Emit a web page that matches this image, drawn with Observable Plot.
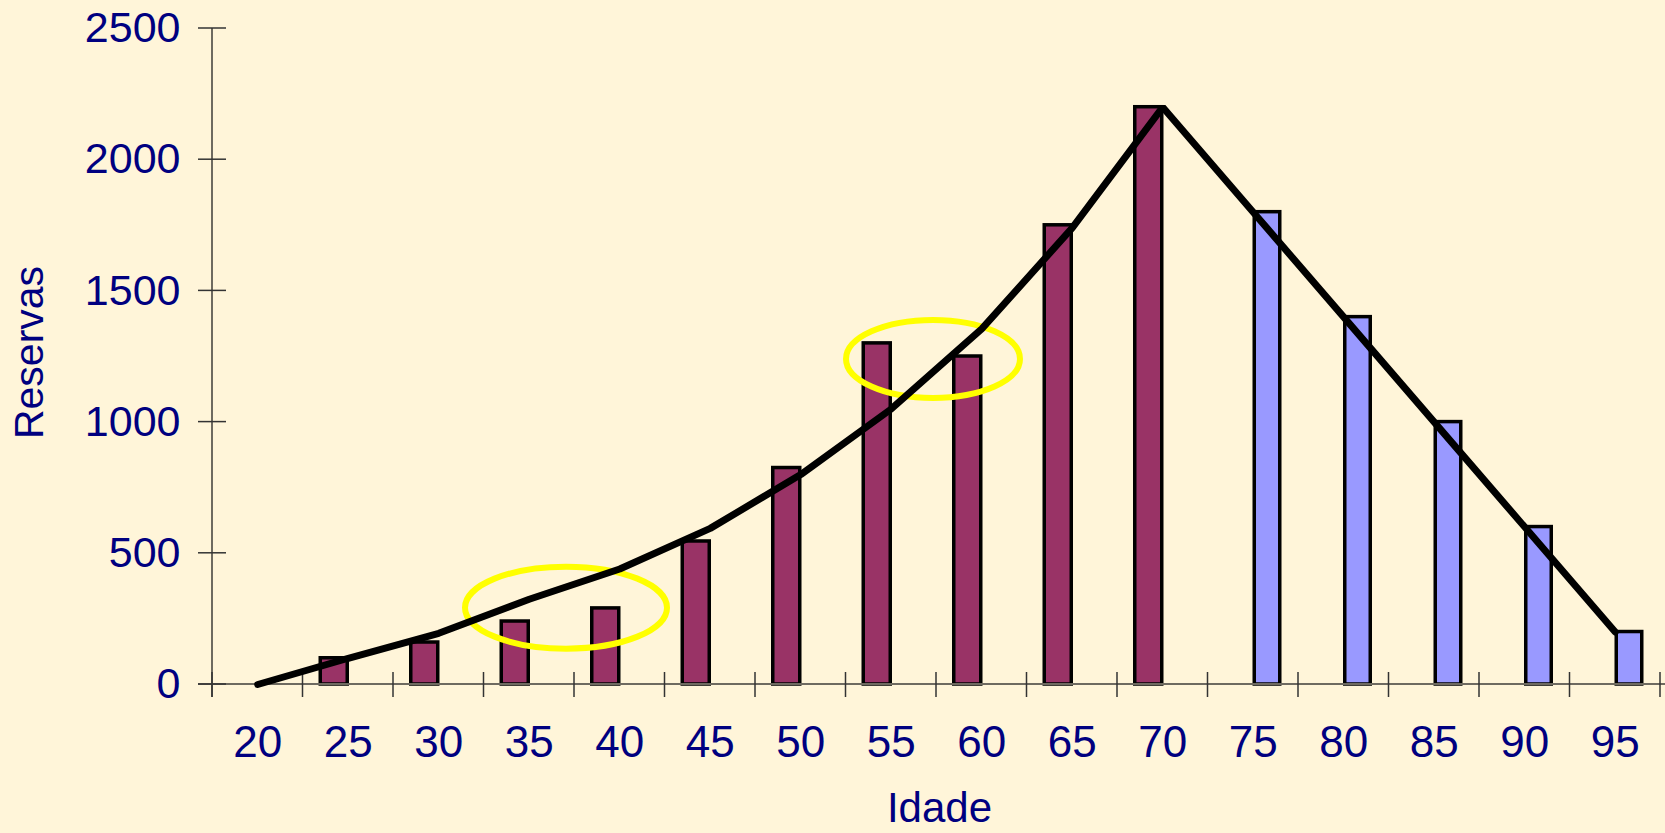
<!DOCTYPE html>
<html>
<head>
<meta charset="utf-8">
<script src="https://cdn.jsdelivr.net/npm/d3@7"></script>
<script src="https://cdn.jsdelivr.net/npm/@observablehq/plot@0.6"></script>
<style>
  html, body { margin: 0; padding: 0; background: #FFF5D9; }
  #chart { width: 1665px; height: 833px; overflow: hidden; }
</style>
</head>
<body>
<div id="chart"></div>
<script>
// ---- data ----
const idades = ["20","25","30","35","40","45","50","55","60","65","70","75","80","85","90","95"];
const reservasLinha = [0, 100, 195, 325, 440, 595, 800, 1050, 1355, 1740, 2200, 1800, 1400, 1000, 600, 200];

const idadesAcumulacao = ["25","30","35","40","45","50","55","60","65","70"];
const valoresAcumulacao = [100, 160, 240, 290, 545, 825, 1300, 1250, 1750, 2200];

const idadesBeneficio = ["75","80","85","90","95"];
const valoresBeneficio = [1800, 1400, 1000, 600, 200];

const yTicks = [0, 500, 1000, 1500, 2000, 2500];

const destaquePares = [["35","40"], ["55","60"]];
const destaqueValores = [291, 1239];

// ---- styles ----
const W = 1665, H = 833;
const M = {left: 212, right: 5, top: 28, bottom: 149};
const halfBand = (W - M.left - M.right) / idades.length / 2;
const navy = "#000080";
const font = "'Liberation Sans', Arial, Helvetica, sans-serif";
const ellipseStyle = [{rx: 101, ry: 41, dx: -8}, {rx: 87, ry: 39, dx: -3}];

const linha = idades.map((d, i) => ({idade: d, valor: reservasLinha[i]}));
const acum = idadesAcumulacao.map((d, i) => ({idade: d, valor: valoresAcumulacao[i]}));
const benef = idadesBeneficio.map((d, i) => ({idade: d, valor: valoresBeneficio[i]}));

function axesMark(index, scales, values, dims) {
  const {x, y} = scales;
  const g = d3.create("svg:g");
  const bw = x(idades[1]) - x(idades[0]);
  const y0 = y(0);
  const left = dims.marginLeft;
  // axis lines
  g.append("line").attr("x1", left - 14).attr("x2", dims.width).attr("y1", y0).attr("y2", y0)
    .attr("stroke", "#6e6a60").attr("stroke-width", 2);
  g.append("line").attr("x1", left).attr("x2", left).attr("y1", y(2500)).attr("y2", y0 + 13)
    .attr("stroke", "#6e6a60").attr("stroke-width", 2);
  // x boundary ticks
  const bounds = idades.map(a => x(a)).concat([x(idades[idades.length - 1]) + bw]);
  for (const b of bounds) {
    g.append("line").attr("x1", b).attr("x2", b).attr("y1", y0 - 12).attr("y2", y0 + 13)
      .attr("stroke", "#333").attr("stroke-width", 1.5);
  }
  // y ticks
  for (const t of yTicks) {
    g.append("line").attr("x1", left - 14).attr("x2", left + 14).attr("y1", y(t)).attr("y2", y(t))
      .attr("stroke", "#333").attr("stroke-width", 1.5);
  }
  return g.node();
}

function destaquesMark(index, scales) {
  const {x, y} = scales;
  const g = d3.create("svg:g");
  destaquePares.forEach((par, i) => {
    const s = ellipseStyle[i];
    g.append("ellipse")
      .attr("cx", x(par[1]) + s.dx)
      .attr("cy", y(destaqueValores[i]))
      .attr("rx", s.rx).attr("ry", s.ry)
      .attr("fill", "none").attr("stroke", "#FFFF00").attr("stroke-width", 6);
  });
  return g.node();
}

const plot = Plot.plot({
  width: W, height: H,
  marginLeft: M.left, marginRight: M.right, marginTop: M.top, marginBottom: M.bottom,
  style: {background: "#FFF5D9", fontFamily: font, color: navy, overflow: "visible"},
  x: {type: "band", domain: idades, padding: 0, round: false},
  y: {domain: [0, 2500]},
  marks: [
    Plot.barY(acum, {x: "idade", y: "valor", fill: "#993366", stroke: "#000", strokeWidth: 3.5,
      insetLeft: halfBand - 27.5, insetRight: halfBand + 0.5}),
    Plot.barY(benef, {x: "idade", y: "valor", fill: "#9999FF", stroke: "#000", strokeWidth: 3.5,
      insetLeft: halfBand + 1.5, insetRight: halfBand - 27}),
    axesMark,
    destaquesMark,
    Plot.lineY(linha, {x: "idade", y: "valor", stroke: "#000", strokeWidth: 7, strokeLinejoin: "miter"}),
    Plot.axisX({tickSize: 0, tickPadding: 41.5, fontSize: 44, fill: navy, label: null}),
    Plot.axisY({ticks: yTicks, tickSize: 0, tickPadding: 32, fontSize: 43, fill: navy, label: null,
      tickFormat: d => String(d)}),
    Plot.text(["Idade"], {frameAnchor: "bottom", text: d => d, dx: 3, dy: 137, lineAnchor: "bottom",
      textAnchor: "middle", fontSize: 42, fill: navy}),
    Plot.text(["Reservas"], {frameAnchor: "left", text: d => d, rotate: -90, dx: -183, dy: -4,
      textAnchor: "middle", lineAnchor: "middle", fontSize: 41, fill: navy})
  ]
});
document.getElementById("chart").appendChild(plot);
</script>
</body>
</html>
